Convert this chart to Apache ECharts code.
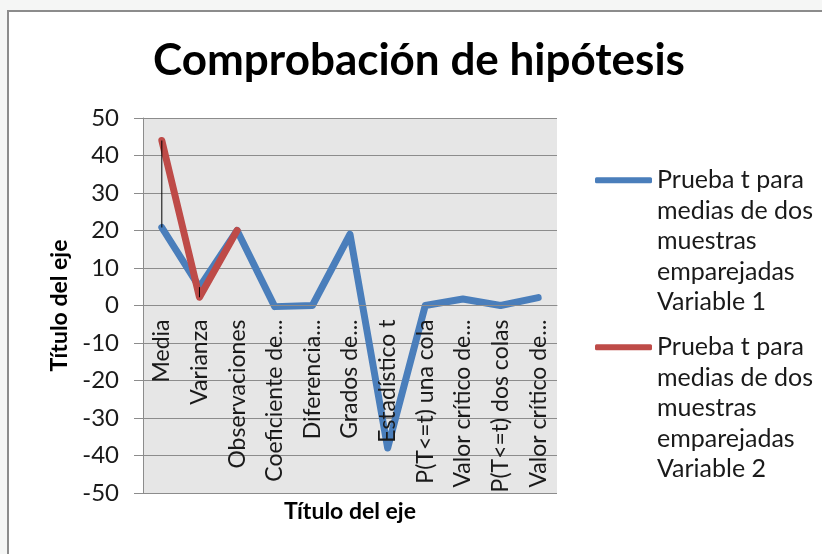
<!DOCTYPE html>
<html>
<head>
<meta charset="utf-8"/>
<script src="https://cdn.jsdelivr.net/npm/echarts@6/dist/echarts.min.js"></script>
<style>
  html, body { margin: 0; padding: 0; background: #f5f6f5; }
</style>
</head>
<body>
<div id="main" style="width: 822px;height:554px;"></div>
<script>
// categorias del eje (tal como se ven, recortadas)
var categorias = ['Media', 'Varianza', 'Observaciones', 'Coeficiente de...', 'Diferencia...',
  'Grados de...', 'Estadístico t', 'P(T<=t) una cola', 'Valor crítico de...',
  'P(T<=t) dos colas', 'Valor crítico de...'];
var variable1 = [20.8, 4.9, 20, -0.3, 0, 19, -38, 0, 1.73, 0, 2.09];
var variable2 = [44, 2.2, 20];
var nombres = ['Prueba t para medias de dos muestras emparejadas Variable 1',
  'Prueba t para medias de dos muestras emparejadas Variable 2'];
var ticksY = { min: -50, max: 50, interval: 10 };

var fuente = 'Lato';

// lineas max-min entre las dos series
var lineasMM = [];
for (var i = 0; i < variable2.length; i++) {
  lineasMM.push([i, variable1[i], variable2[i]]);
}

var gridTop = 118, gridBottom = 61, alto = 554;
var altoGrid = alto - gridTop - gridBottom;
// el eje de categorias cruza en 0 (como en Excel)
var offsetCero = -altoGrid * (0 - ticksY.min) / (ticksY.max - ticksY.min);

var myChart = echarts.init(document.getElementById('main'));
var option = {
  backgroundColor: '#f5f6f5',
  textStyle: { fontFamily: fuente },
  graphic: [{
    type: 'rect', z: -10, silent: true,
    shape: { x: 8, y: 11, width: 830, height: 560 },
    style: { fill: '#ffffff', stroke: '#8c8c8c', lineWidth: 2 }
  }],
  title: {
    text: 'Comprobación de hipótesis',
    left: 414, top: 34, textAlign: 'center',
    textStyle: { fontFamily: fuente, fontSize: 44, fontWeight: 'bold', color: '#000' }
  },
  legend: {
    orient: 'vertical',
    left: 595, top: 43,
    padding: 0,
    itemGap: -107.5,
    itemWidth: 57, itemHeight: 6,
    icon: 'roundRect',
    data: nombres,
    // el texto empieza a la altura del icono (como en Excel)
    formatter: function (n) { return '\n\n\n\n' + n; },
    textStyle: {
      fontFamily: fuente, fontSize: 25, color: '#1a1a1a',
      lineHeight: 30.5, width: 170, overflow: 'break'
    }
  },
  grid: {
    left: 143, right: 265, top: gridTop, bottom: gridBottom,
    outerBoundsMode: 'none', containLabel: false,
    show: true, backgroundColor: '#e6e6e6', borderWidth: 0
  },
  xAxis: {
    type: 'category',
    data: categorias,
    boundaryGap: true,
    position: 'bottom',
    offset: offsetCero,
    z: 5,
    name: 'Título del eje',
    nameLocation: 'middle',
    nameGap: 194,
    nameTextStyle: { fontFamily: fuente, fontSize: 23, fontWeight: 'bold', color: '#000' },
    axisLine: { onZero: false, lineStyle: { color: '#8c8c8c', width: 1 } },
    axisTick: { show: false },
    axisLabel: {
      rotate: 90, interval: 0, margin: 14,
      fontFamily: fuente, fontSize: 23, color: '#1a1a1a'
    },
    splitLine: { show: false }
  },
  yAxis: {
    type: 'value',
    min: ticksY.min, max: ticksY.max, interval: ticksY.interval,
    name: 'Título del eje',
    nameLocation: 'middle',
    nameGap: 69,
    nameTextStyle: { fontFamily: fuente, fontSize: 23, fontWeight: 'bold', color: '#000' },
    axisLine: { show: true, lineStyle: { color: '#8c8c8c', width: 1 } },
    axisTick: { show: true, inside: false, length: 9, lineStyle: { color: '#8c8c8c' } },
    axisLabel: { margin: 24, fontFamily: fuente, fontSize: 24, color: '#1a1a1a' },
    splitLine: { show: true, lineStyle: { color: '#8c8c8c', width: 1 } }
  },
  series: [{
    name: nombres[0],
    type: 'line',
    data: variable1,
    symbol: 'none',
    color: '#4a7ebb',
    lineStyle: { width: 7, color: '#4a7ebb', cap: 'round', join: 'round' },
    z: 2
  }, {
    name: nombres[1],
    type: 'line',
    data: variable2,
    symbol: 'none',
    color: '#be4b48',
    lineStyle: { width: 7, color: '#be4b48', cap: 'round', join: 'round' },
    z: 3
  }, {
    type: 'custom',
    data: lineasMM,
    z: 4,
    silent: true,
    renderItem: function (params, api) {
      var a = api.coord([api.value(0), api.value(1)]);
      var b = api.coord([api.value(0), api.value(2)]);
      return {
        type: 'line',
        shape: { x1: a[0], y1: a[1], x2: b[0], y2: b[1] },
        style: { stroke: '#000', lineWidth: 1 }
      };
    }
  }]
};
myChart.setOption(option);
</script>
</body>
</html>
